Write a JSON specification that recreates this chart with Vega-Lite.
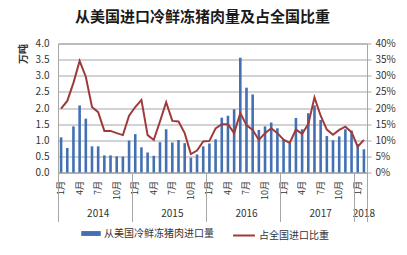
{
  "$schema": "https://vega.github.io/schema/vega-lite/v6.json",
  "width": 309,
  "height": 129,
  "autosize": "none",
  "padding": {"left": 58, "top": 43.5, "right": 40, "bottom": 82.5},
  "background": "white",
  "title": {"text": "从美国进口冷鲜冻猪肉量及占全国比重", "fontSize": 15, "fontWeight": "bold", "font": "Noto Sans CJK SC", "color": "#1a1a1a", "anchor": "middle", "offset": 14, "dx": -10},
  "config": {
    "font": "Noto Sans CJK SC",
    "view": {"stroke": "#a6a6a6", "strokeWidth": 1},
    "axis": {"labelColor": "#333333", "titleColor": "#333333", "labelFontSize": 10, "domainColor": "#a6a6a6", "tickColor": "#a6a6a6", "gridColor": "#a6a6a6"},
    "legend": {"labelFontSize": 10, "labelColor": "#333333", "orient": "none", "direction": "horizontal", "padding": 0, "labelOffset": 3}
  },
  "data": {"values": [
    {"m": "2014-01", "vol": 1.09, "share": 19.8},
    {"m": "2014-02", "vol": 0.76, "share": 22.2},
    {"m": "2014-03", "vol": 1.43, "share": 27.8},
    {"m": "2014-04", "vol": 2.08, "share": 34.6},
    {"m": "2014-05", "vol": 1.67, "share": 29.7},
    {"m": "2014-06", "vol": 0.81, "share": 20.3},
    {"m": "2014-07", "vol": 0.81, "share": 18.7},
    {"m": "2014-08", "vol": 0.53, "share": 12.9},
    {"m": "2014-09", "vol": 0.53, "share": 12.9},
    {"m": "2014-10", "vol": 0.50, "share": 12.2},
    {"m": "2014-11", "vol": 0.50, "share": 11.6},
    {"m": "2014-12", "vol": 0.99, "share": 17.6},
    {"m": "2015-01", "vol": 1.19, "share": 20.3},
    {"m": "2015-02", "vol": 0.78, "share": 22.5},
    {"m": "2015-03", "vol": 0.62, "share": 11.6},
    {"m": "2015-04", "vol": 0.52, "share": 10.1},
    {"m": "2015-05", "vol": 0.94, "share": 15.8},
    {"m": "2015-06", "vol": 1.34, "share": 21.8},
    {"m": "2015-07", "vol": 0.93, "share": 16.0},
    {"m": "2015-08", "vol": 1.01, "share": 15.8},
    {"m": "2015-09", "vol": 0.91, "share": 12.2},
    {"m": "2015-10", "vol": 0.46, "share": 5.7},
    {"m": "2015-11", "vol": 0.56, "share": 6.8},
    {"m": "2015-12", "vol": 0.81, "share": 9.6},
    {"m": "2016-01", "vol": 0.90, "share": 9.8},
    {"m": "2016-02", "vol": 1.03, "share": 13.7},
    {"m": "2016-03", "vol": 1.70, "share": 15.0},
    {"m": "2016-04", "vol": 1.76, "share": 15.0},
    {"m": "2016-05", "vol": 1.96, "share": 12.2},
    {"m": "2016-06", "vol": 3.56, "share": 18.4},
    {"m": "2016-07", "vol": 2.63, "share": 14.7},
    {"m": "2016-08", "vol": 2.42, "share": 13.2},
    {"m": "2016-09", "vol": 1.32, "share": 10.1},
    {"m": "2016-10", "vol": 1.43, "share": 12.2},
    {"m": "2016-11", "vol": 1.55, "share": 13.7},
    {"m": "2016-12", "vol": 1.37, "share": 12.2},
    {"m": "2017-01", "vol": 1.03, "share": 10.2},
    {"m": "2017-02", "vol": 0.91, "share": 9.2},
    {"m": "2017-03", "vol": 1.69, "share": 13.3},
    {"m": "2017-04", "vol": 1.34, "share": 12.0},
    {"m": "2017-05", "vol": 1.84, "share": 15.0},
    {"m": "2017-06", "vol": 2.08, "share": 23.3},
    {"m": "2017-07", "vol": 1.63, "share": 17.6},
    {"m": "2017-08", "vol": 1.13, "share": 13.3},
    {"m": "2017-09", "vol": 1.00, "share": 11.7},
    {"m": "2017-10", "vol": 1.12, "share": 13.2},
    {"m": "2017-11", "vol": 1.34, "share": 14.2},
    {"m": "2017-12", "vol": 1.30, "share": 12.5},
    {"m": "2018-01", "vol": 0.88, "share": 8.0},
    {"m": "2018-02", "vol": 0.72, "share": 10.1}
  ]},
  "layer": [
    {
      "mark": {"type": "bar", "width": {"band": 0.42}},
      "encoding": {
        "x": {"field": "m", "type": "ordinal", "sort": null,
          "scale": {"paddingInner": 0, "paddingOuter": 0},
          "axis": {"orient": "bottom", "title": null, "labelAngle": -90, "labelFontSize": 9, "labelPadding": 8, "labelOverlap": false,
            "labelExpr": "indexof(['01','04','07','10'], slice(datum.value, 5)) >= 0 ? toNumber(slice(datum.value, 5)) + '月' : ''",
            "ticks": false,
            "grid": false}},
        "y": {"field": "vol", "type": "quantitative", "scale": {"domain": [0, 4]},
          "axis": {"orient": "left", "values": [0, 0.5, 1, 1.5, 2, 2.5, 3, 3.5, 4], "format": ".1f", "grid": true, "ticks": false, "domain": false, "labelPadding": 9,
            "title": "万吨", "titleAnchor": "end", "titleFontSize": 10, "titleFontWeight": "bold", "titlePadding": 7}},
        "color": {"datum": "从美国冷鲜冻猪肉进口量", "scale": {"range": ["#4270b3"]},
          "legend": {"title": null, "legendX": 23, "legendY": 180, "symbolType": "M-1,-0.25L1,-0.25L1,0.25L-1,0.25Z", "symbolSize": 380, "symbolStrokeWidth": 0}}
      }
    },
    {
      "mark": {"type": "line", "strokeWidth": 2},
      "encoding": {
        "x": {"field": "m", "type": "ordinal", "sort": null,
          "axis": {"orient": "bottom", "title": null, "values": ["2014-07", "2015-07", "2016-07", "2017-07", "2018-02"], "bandPosition": 0,
            "labelExpr": "slice(datum.value, 0, 4)", "labelAngle": 0, "ticks": false, "domain": false, "offset": 36, "labelPadding": 0, "labelFontSize": 10, "labelOverlap": false, "grid": false}},
        "y": {"field": "share", "type": "quantitative", "scale": {"domain": [0, 40]},
          "axis": {"orient": "right", "values": [0, 5, 10, 15, 20, 25, 30, 35, 40], "labelExpr": "datum.value + '%'", "grid": false, "tickSize": 4, "domain": false, "labelPadding": 4, "title": null}},
        "stroke": {"datum": "占全国进口比重", "scale": {"range": ["#a03a3a"]},
          "legend": {"title": null, "legendX": 174, "legendY": 180, "symbolType": "stroke", "symbolSize": 480, "symbolStrokeWidth": 2}}
      }
    },
    {
      "mark": {"type": "point", "opacity": 0},
      "encoding": {
        "x": {"field": "m", "type": "ordinal", "sort": null,
          "axis": {"orient": "bottom", "title": null, "values": ["2014-01", "2015-01", "2016-01", "2017-01", "2018-01"], "bandPosition": 0,
            "labels": false, "domain": false, "ticks": true, "tickSize": 49, "tickColor": "#a6a6a6", "grid": false}},
        "y": {"field": "vol", "type": "quantitative", "axis": null}
      }
    },
    {
      "mark": {"type": "point", "opacity": 0},
      "encoding": {
        "x": {"field": "m", "type": "ordinal", "sort": null,
          "axis": {"orient": "bottom", "title": null, "values": ["2018-02"], "bandPosition": 1,
            "labels": false, "domain": false, "ticks": true, "tickSize": 49, "tickColor": "#a6a6a6", "grid": false}},
        "y": {"field": "vol", "type": "quantitative", "axis": null}
      }
    }
  ],
  "resolve": {"scale": {"y": "independent"}, "axis": {"x": "independent"}}
}
